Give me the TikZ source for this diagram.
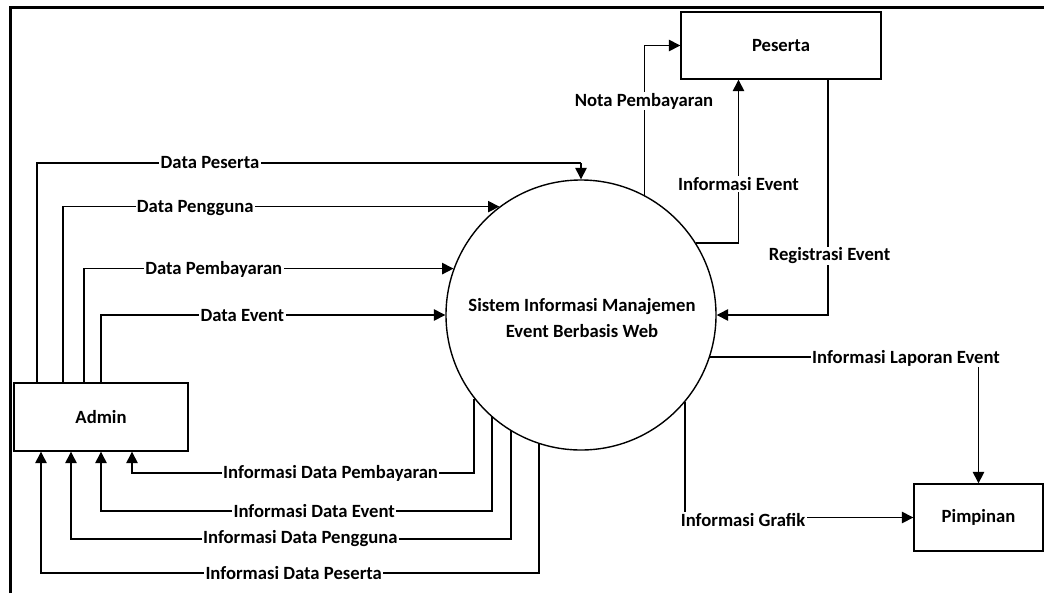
\documentclass[tikz,border=0pt]{standalone}
\usepackage{fontspec}
\setmainfont{Carlito}
\usetikzlibrary{arrows.meta}
\begin{document}
\begin{tikzpicture}[x=0.75pt,y=-0.75pt,
  font=\fontsize{14}{17}\selectfont\bfseries,
  line width=1.05pt,
  entity/.style={draw,rectangle,inner sep=0pt},
  process/.style={draw,circle,inner sep=0pt,minimum size={270*0.75pt}},
  flow/.style={-{Triangle[length=8.5pt,width=8.5pt]}},
  lbl/.style={fill=white,inner sep=1pt}]
\useasboundingbox (0,0) rectangle (1044,593);

% outer frame
\draw[line width=2.5pt,line join=miter] (10.7,593) -- (10.7,7.5) -- (1044,7.5);

% entities and process
\node[entity,minimum width={174*0.75pt},minimum height={68*0.75pt}] (admin) at (101,417) {Admin};
\node[entity,minimum width={200*0.75pt},minimum height={67*0.75pt}] (pes) at (781,45.5) {Peserta};
\node[entity,minimum width={129*0.75pt},minimum height={67*0.75pt}] (pim) at (978.5,517.5) {Pimpinan};
\node[process] (sys) at (581,315) {};
\node[align=center,inner sep=0pt] (systxt) at (582,318) {Sistem Informasi Manajemen\\[2.5pt]Event Berbasis Web};

% column positions of the admin flows
\coordinate (a1) at (37,0);
\coordinate (a2) at (63,0);
\coordinate (a3) at (84,0);
\coordinate (a4) at (101,0);
\coordinate (kp) at (581,163);
\coordinate (b1) at (132,473);
\coordinate (b2) at (101,511);
\coordinate (b3) at (71,539);
\coordinate (b4) at (41,573);
\coordinate (xie) at (738.5,0);
\coordinate (xre) at (828,0);

% admin -> system
\draw (admin.north -| a1) |- (kp);
\draw[flow] (kp) -- (sys.north);
\draw[flow] (admin.north -| a2) |- (sys.127.6);
\draw[flow] (admin.north -| a3) |- (sys.160.1);
\draw[flow] (admin.north -| a4) |- (sys.west);

% system -> admin
\draw[flow] (sys.-142.1) |- (b1) -- (admin.south -| b1);
\draw[flow] (sys.-131.2) |- (b2) -- (admin.south -| b2);
\draw[flow] (sys.-121.7) |- (b3) -- (admin.south -| b3);
\draw[flow] (sys.-108.1) |- (b4) -- (admin.south -| b4);

% system <-> peserta
\draw[flow] (sys.62.7) |- (pes.west);
\draw[flow] (sys.32.2) -| (pes.south -| xie);
\draw[flow] (pes.south -| xre) |- (sys.east);

% system -> pimpinan
\draw[flow] (sys.-18.6) -| (pim.north);
\draw[flow] (sys.-40.9) |- (pim.west);

% flow labels
\node[lbl] (l1) at (210,163) {Data Peserta};
\node[lbl] (l2) at (195.3,208) {Data Pengguna};
\node[lbl] (l3) at (213.8,269) {Data Pembayaran};
\node[lbl] (l4) at (242.4,316) {Data Event};
\node[lbl] (l5) at (330.6,473) {Informasi Data Pembayaran};
\node[lbl] (l6) at (314.2,511) {Informasi Data Event};
\node[lbl] (l7) at (300.4,539) {Informasi Data Pengguna};
\node[lbl] (l8) at (293.7,573) {Informasi Data Peserta};
\node[lbl] (l9) at (644,101) {Nota Pembayaran};
\node[lbl] (l10) at (738.5,184) {Informasi Event};
\node[lbl] (l11) at (829.5,256) {Registrasi Event};
\node[lbl] (l12) at (906,358) {Informasi Laporan Event};
\node[lbl] (l13) at (743,520) {Informasi Grafik};
\end{tikzpicture}
\end{document}
